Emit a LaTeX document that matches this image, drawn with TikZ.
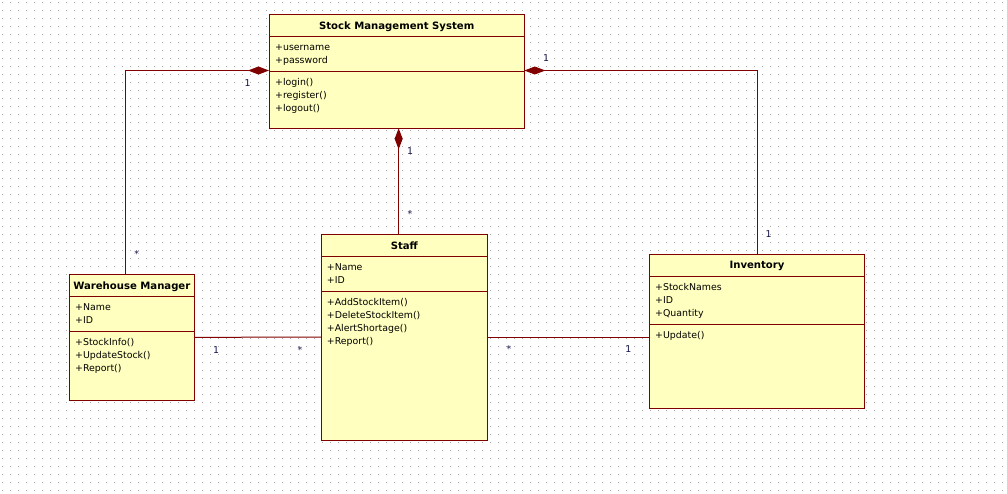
\documentclass[tikz,border=0pt]{standalone}
\usepackage{fontspec}
\setmainfont{DejaVu Sans}
\usetikzlibrary{arrows.meta}
\definecolor{umlred}{HTML}{800000}
\definecolor{umlfill}{HTML}{FFFFC0}
\definecolor{gridc}{HTML}{AAAAAA}
\definecolor{labc}{HTML}{14144A}
\begin{document}
\begin{tikzpicture}[x=1pt,y=-1pt,
  cls/.style={draw=umlred, fill=umlfill, line width=1pt, inner sep=0pt, outer sep=0pt, anchor=north west},
  sepline/.style={draw=umlred, line width=1pt},
  ctitle/.style={font=\fontsize{10.1}{12}\selectfont\bfseries, anchor=base, inner sep=0pt},
  member/.style={font=\fontsize{9.4}{13}\selectfont, anchor=base west, inner sep=0pt},
  conn/.style={draw=umlred, line width=1pt},
  comp/.style={conn, {Diamond[length=21pt,width=8pt]}-},
  mult/.style={font=\fontsize{9.4}{11}\selectfont, text=labc, inner sep=0pt}]
% canvas and grid
\useasboundingbox (0,0) rectangle (1007,493);
\fill[white] (0,0) rectangle (1007,493);
\foreach \i in {0,...,125}{
  \foreach \j in {0,...,61}{
    \fill[gridc] (2+8*\i,2+8*\j) rectangle +(1,1);
  }
}
% ---- Stock Management System
\node[cls, minimum width=255.3pt, minimum height=114pt] (sms) at (269,14.3) {};
\draw[sepline] (269,36.3) -- (524.3,36.3);
\draw[sepline] (269,71.3) -- (524.3,71.3);
\node[ctitle] (smst) at (396.7,29.3) {Stock Management System};
\foreach \t [count=\i from 0] in {+username,+password}
  \node[member] (smsa\i) at (275,50.3+13*\i) {\t};
\foreach \t [count=\i from 0] in {+login(),+register(),+logout()}
  \node[member] (smsm\i) at (275,85.3+13*\i) {\t};
% ---- Warehouse Manager
\node[cls, minimum width=125pt, minimum height=126pt] (wm) at (69.3,274.3) {};
\draw[sepline] (69.3,296.7) -- (194.3,296.7);
\draw[sepline] (69.3,331.3) -- (194.3,331.3);
\node[ctitle] (wmt) at (131.8,289) {Warehouse Manager};
\foreach \t [count=\i from 0] in {+Name,+ID}
  \node[member] (wma\i) at (75,310.7+13*\i) {\t};
\foreach \t [count=\i from 0] in {+StockInfo(),+UpdateStock(),+Report()}
  \node[member] (wmm\i) at (75,345.3+13*\i) {\t};
% ---- Staff
\node[cls, minimum width=166pt, minimum height=205.7pt] (staff) at (321.3,234.3) {};
\draw[sepline] (321.3,256.7) -- (487.3,256.7);
\draw[sepline] (321.3,291.3) -- (487.3,291.3);
\node[ctitle] (stafft) at (404.3,249) {Staff};
\foreach \t [count=\i from 0] in {+Name,+ID}
  \node[member] (staffa\i) at (326.7,270.7+13*\i) {\t};
\foreach \t [count=\i from 0] in {+AddStockItem(),+DeleteStockItem(),+AlertShortage(),+Report()}
  \node[member] (staffm\i) at (326.7,305.3+13*\i) {\t};
% ---- Inventory
\node[cls, minimum width=214.6pt, minimum height=154pt] (inv) at (649.7,254.3) {};
\draw[sepline] (649.7,276.7) -- (864.3,276.7);
\draw[sepline] (649.7,324.3) -- (864.3,324.3);
\node[ctitle] (invt) at (757,268.8) {Inventory};
\foreach \t [count=\i from 0] in {+StockNames,+ID,+Quantity}
  \node[member] (inva\i) at (655,290.7+13*\i) {\t};
\foreach \t [count=\i from 0] in {+Update()}
  \node[member] (invm\i) at (655,338.3+13*\i) {\t};
% ---- connectors
\draw[comp] ([yshift=0.8pt]sms.west) -| ([xshift=-6pt]wm.north);
\draw[comp] ([yshift=0.8pt]sms.east) -| (inv.north);
\draw[comp] ([xshift=2pt]sms.south) -- ([xshift=2pt]sms.south |- staff.north);
\draw[conn] (wm.east) -- (staff.west);
\draw[conn] (staff.east) -- (staff.east -| inv.west);
% ---- multiplicities
\node[mult] (m1) at (247.7,82.7) {1};
\node[mult] (m2) at (136.7,253.6) {*};
\node[mult] (m3) at (546,58.3) {1};
\node[mult] (m4) at (768.7,234) {1};
\node[mult] (m5) at (410,151) {1};
\node[mult] (m6) at (410,213.6) {*};
\node[mult] (m7) at (216,350) {1};
\node[mult] (m8) at (300,349.6) {*};
\node[mult] (m9) at (509,348.6) {*};
\node[mult] (m10) at (628.3,349.3) {1};
\end{tikzpicture}
\end{document}
